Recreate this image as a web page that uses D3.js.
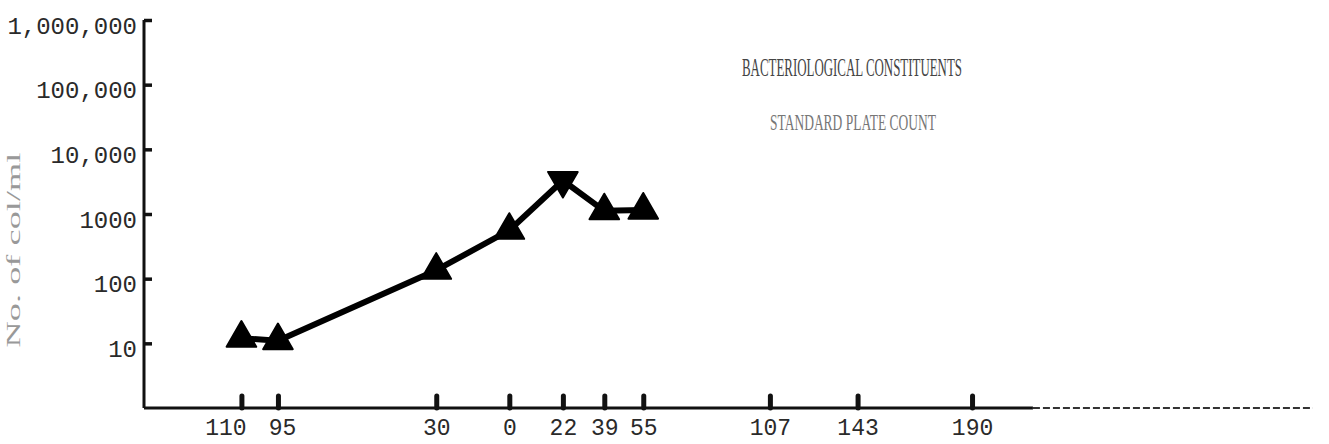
<!DOCTYPE html>
<html><head><meta charset="utf-8">
<script src="https://cdn.jsdelivr.net/npm/d3@7"></script>
<style>
html,body{margin:0;padding:0;background:#fff;}
svg{display:block;}
</style></head><body>
<svg id="chart" width="1329" height="444"></svg>
<script>
// Sampling stations in river miles (upstream negative) and standard plate counts
const stationMiles = [-110, -95, -30, 0, 22, 39, 55];
const plateCounts = [12, 11, 135, 560, 3300, 1120, 1150];
const markerDirection = ["up", "up", "up", "up", "down", "up", "up"];
const xTickMiles = [-110, -95, -30, 0, 22, 39, 55, 107, 143, 190];
const yTickValues = [10, 100, 1000, 10000, 100000, 1000000];
const yTickLabels = ["10", "100", "1000", "10,000", "100,000", "1,000,000"];
const titleLines = ["BACTERIOLOGICAL CONSTITUENTS", "STANDARD PLATE COUNT"];
const yAxisTitle = "No. of col/ml";

const svg = d3.select("#chart");
const x = d3.scaleLinear().domain([-150, 330]).range([144, 1313]);
const y = d3.scaleLog().domain([1, 1e6]).range([408, 20]);

const ink = "#111";
const mono = "Liberation Mono, DejaVu Sans Mono, monospace";
const serif = "Liberation Serif, DejaVu Serif, serif";

// Y axis: ticks pointing right of the axis line, labels to the left
const yAxis = d3.axisLeft(y)
  .tickValues(yTickValues)
  .tickSize(-8)
  .tickSizeOuter(0)
  .tickPadding(7)
  .tickFormat((d, i) => yTickLabels[i]);
const gy = svg.append("g").attr("transform", `translate(${x.range()[0]},0)`).call(yAxis);
gy.select(".domain").remove();
gy.selectAll(".tick line").attr("stroke", ink).attr("stroke-width", 3.5);
gy.selectAll(".tick text")
  .attr("fill", "#2a2a2a")
  .attr("font-size", 24)
  .attr("font-family", mono)
  .attr("dy", "0.55em");
svg.append("line")
  .attr("x1", x.range()[0]).attr("x2", x.range()[0])
  .attr("y1", y(1e6)).attr("y2", y(1))
  .attr("stroke", ink).attr("stroke-width", 3);

// X axis: short upward ticks at each station mile
const xAxis = d3.axisBottom(x)
  .tickValues(xTickMiles)
  .tickSize(-13)
  .tickSizeOuter(0)
  .tickPadding(11)
  .tickFormat(d => String(Math.abs(d)));
const gx = svg.append("g").attr("transform", `translate(0,${y(1)})`).call(xAxis);
gx.select(".domain").remove();
gx.selectAll(".tick line")
  .attr("stroke", ink).attr("stroke-width", 5).attr("stroke-linecap", "round")
  .attr("y2", -12);
gx.selectAll(".tick text")
  .attr("fill", "#2a2a2a")
  .attr("font-size", 23)
  .attr("font-family", mono)
  .attr("dx", d => d === -110 ? -16 : d === -95 ? 4 : 0);

const axisSolidEnd = x(215);
svg.append("line")
  .attr("x1", x.range()[0]).attr("x2", axisSolidEnd)
  .attr("y1", y(1)).attr("y2", y(1))
  .attr("stroke", ink).attr("stroke-width", 3);
svg.append("line")
  .attr("x1", axisSolidEnd).attr("x2", x.range()[1])
  .attr("y1", y(1)).attr("y2", y(1))
  .attr("stroke", "#333").attr("stroke-width", 2)
  .attr("stroke-dasharray", "7,3");

// Data line and triangle markers
const points = stationMiles.map((m, i) => ({mile: m, count: plateCounts[i], dir: markerDirection[i]}));
svg.append("path")
  .datum(points)
  .attr("d", d3.line().x(d => x(d.mile)).y(d => y(d.count)))
  .attr("fill", "none")
  .attr("stroke", "#000")
  .attr("stroke-width", 6)
  .attr("stroke-linejoin", "round");

const tri = d3.symbol(d3.symbolTriangle, 380);
svg.append("g").selectAll("path")
  .data(points)
  .join("path")
  .attr("d", tri)
  .attr("transform", d => `translate(${x(d.mile)},${y(d.count)}) rotate(${d.dir === "down" ? 180 : 0})`)
  .attr("fill", "#000")
  .attr("stroke", "#000")
  .attr("stroke-width", 2)
  .attr("stroke-linejoin", "round");

// Titles (faint typewriter text)
svg.append("text")
  .attr("x", 742).attr("y", 76)
  .attr("font-family", serif)
  .attr("font-size", 25)
  .attr("textLength", 220)
  .attr("lengthAdjust", "spacingAndGlyphs")
  .attr("fill", "#444")
  .text(titleLines[0]);
svg.append("text")
  .attr("x", 770).attr("y", 130)
  .attr("font-family", serif)
  .attr("font-size", 23)
  .attr("textLength", 166)
  .attr("lengthAdjust", "spacingAndGlyphs")
  .attr("fill", "#777")
  .text(titleLines[1]);

// Rotated y-axis title
svg.append("text")
  .attr("transform", "translate(20,250) rotate(-90)")
  .attr("text-anchor", "middle")
  .attr("font-family", serif)
  .attr("font-size", 19)
  .attr("textLength", 195)
  .attr("lengthAdjust", "spacingAndGlyphs")
  .attr("fill", "#999")
  .text(yAxisTitle);
</script>
</body></html>
